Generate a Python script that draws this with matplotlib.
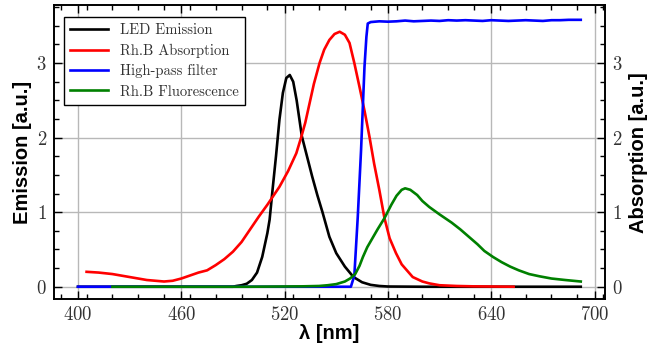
import matplotlib
matplotlib.use("Agg")
import matplotlib.pyplot as plt
from matplotlib.ticker import MultipleLocator

# LED emission
led_x = [400, 450, 490, 492, 495, 498, 501, 504, 507, 510, 511.3, 513, 515, 517, 519, 521, 523, 525, 527, 530,
         533, 536, 539, 542, 546, 550, 555, 560, 565, 570, 575, 580, 600, 692]
led_y = [0, 0, 0, 0.01, 0.02, 0.04, 0.09, 0.19, 0.4, 0.72, 0.9, 1.3, 1.75, 2.24, 2.6, 2.8, 2.84, 2.75, 2.5, 2.02,
         1.75, 1.48, 1.23, 1.0, 0.67, 0.45, 0.27, 0.13, 0.06, 0.025, 0.01, 0.003, 0, 0]

# Rh.B absorption
abs_x = [405, 412, 420, 430, 440, 450, 455, 460, 465, 470, 475, 480, 485, 490, 495, 500, 505, 510, 517, 522, 526.8,
         529.7, 532, 534.5, 537, 540.3, 543, 546, 549, 552, 555, 557.7, 560.5, 563.5, 566.5, 569.3, 572, 575, 578, 581,
         584.7, 588, 594.4, 600, 604, 610, 620, 630, 653]
abs_y = [0.2, 0.19, 0.17, 0.13, 0.09, 0.07, 0.08, 0.11, 0.15, 0.19, 0.22, 0.29, 0.37, 0.47, 0.6, 0.77, 0.94, 1.1, 1.34,
         1.55, 1.79, 2.01, 2.2, 2.46, 2.72, 3.0, 3.18, 3.31, 3.39, 3.42, 3.38, 3.27, 3.0, 2.68, 2.35, 2.01, 1.65, 1.3,
         0.92, 0.65, 0.45, 0.3, 0.13, 0.07, 0.045, 0.02, 0.01, 0.005, 0.0]

# High-pass filter
hp_x = [400, 558.5, 560.5, 562.5, 564.4, 566.4, 567.5, 568.3, 570, 575, 580, 585, 590, 595, 600, 605,
        610, 615, 620, 625, 630, 635, 640, 645, 650, 655, 660, 665, 670, 675, 680, 685, 692]
hp_y = [0, 0, 0.15, 0.94, 1.83, 2.95, 3.35, 3.53, 3.55, 3.56, 3.555, 3.56, 3.57, 3.56, 3.565, 3.57, 3.565,
        3.575, 3.57, 3.575, 3.57, 3.565, 3.575, 3.57, 3.565, 3.57, 3.575, 3.57, 3.565, 3.575, 3.575, 3.58, 3.58]

# Rh.B fluorescence
fl_x = [420, 500, 530, 540, 545, 550, 555, 558, 561, 563.5, 565.5, 568, 571, 574, 578, 582, 585, 588, 590, 593, 597,
        600, 604, 610, 617, 622, 627, 632, 636, 641, 646, 651, 656, 662, 668, 675, 683, 692]
fl_y = [0, 0, 0.005, 0.01, 0.02, 0.035, 0.07, 0.11, 0.17, 0.28, 0.40, 0.53, 0.65, 0.77, 0.92, 1.1, 1.22, 1.3, 1.32,
        1.3, 1.23, 1.15, 1.07, 0.97, 0.86, 0.77, 0.67, 0.57, 0.48, 0.40, 0.33, 0.27, 0.22, 0.17, 0.14, 0.11, 0.09, 0.07]

labels = ["LED Emission", "Rh.B Absorption", "High-pass filter", "Rh.B Fluorescence"]
xticks = [400, 460, 520, 580, 640, 700]
yticks = [0, 1, 2, 3]

serif = "cmr10"
plt.rcParams["axes.formatter.use_mathtext"] = True

fig = plt.figure(figsize=(6.49, 3.51), dpi=100)
ax = fig.add_axes([0.083, 0.147, 0.849, 0.839])
ax2 = ax.twinx()

lw = 1.9
ax.plot(led_x, led_y, color="black", lw=lw, label=labels[0])
ax.plot(abs_x, abs_y, color="#ff0000", lw=lw, label=labels[1])
ax.plot(hp_x, hp_y, color="#0000ff", lw=lw, label=labels[2])
ax.plot(fl_x, fl_y, color="#008000", lw=lw, label=labels[3])

for a in (ax, ax2):
    a.set_xlim(386, 706)
    a.set_ylim(-0.17, 3.78)
    a.set_yticks(yticks)
    a.yaxis.set_minor_locator(MultipleLocator(0.25))

ax.set_xticks(xticks)
ax.xaxis.set_minor_locator(MultipleLocator(15))
ax.tick_params(which="both", direction="in", top=True, labelsize=13.5, width=1)
ax.tick_params(which="major", length=6, pad=5)
ax.tick_params(which="minor", length=3.5)
ax2.tick_params(which="both", direction="in", labelsize=13.5, width=1)
ax2.tick_params(which="major", length=6, pad=5)
ax2.tick_params(which="minor", length=3.5)

for lab in ax.get_xticklabels() + ax.get_yticklabels() + ax2.get_yticklabels():
    lab.set_fontfamily(serif)
    lab.set_color("#333333")

ax.grid(True, which="major", color="#b8b8b8", lw=1)
for a in (ax, ax2):
    for s in a.spines.values():
        s.set_linewidth(1.2)

lf = dict(family="Liberation Sans", weight="bold", size=14.5)
ax.set_xlabel("λ [nm]", fontdict=lf, labelpad=0)
ax.set_ylabel("Emission [a.u.]", fontdict=lf, labelpad=3)
ax2.set_ylabel("Absorption [a.u.]", fontdict=lf, labelpad=5)

leg = ax.legend(loc="upper left", prop={"family": serif, "size": 10.5}, fancybox=False, framealpha=1,
                edgecolor="black", borderpad=0.45, handlelength=2.6, labelspacing=0.45,
                bbox_to_anchor=(0.005, 0.985))
leg.get_frame().set_linewidth(1.0)
for t in leg.get_texts():
    t.set_color("#333333")

fig.savefig("out.png", dpi=100)
